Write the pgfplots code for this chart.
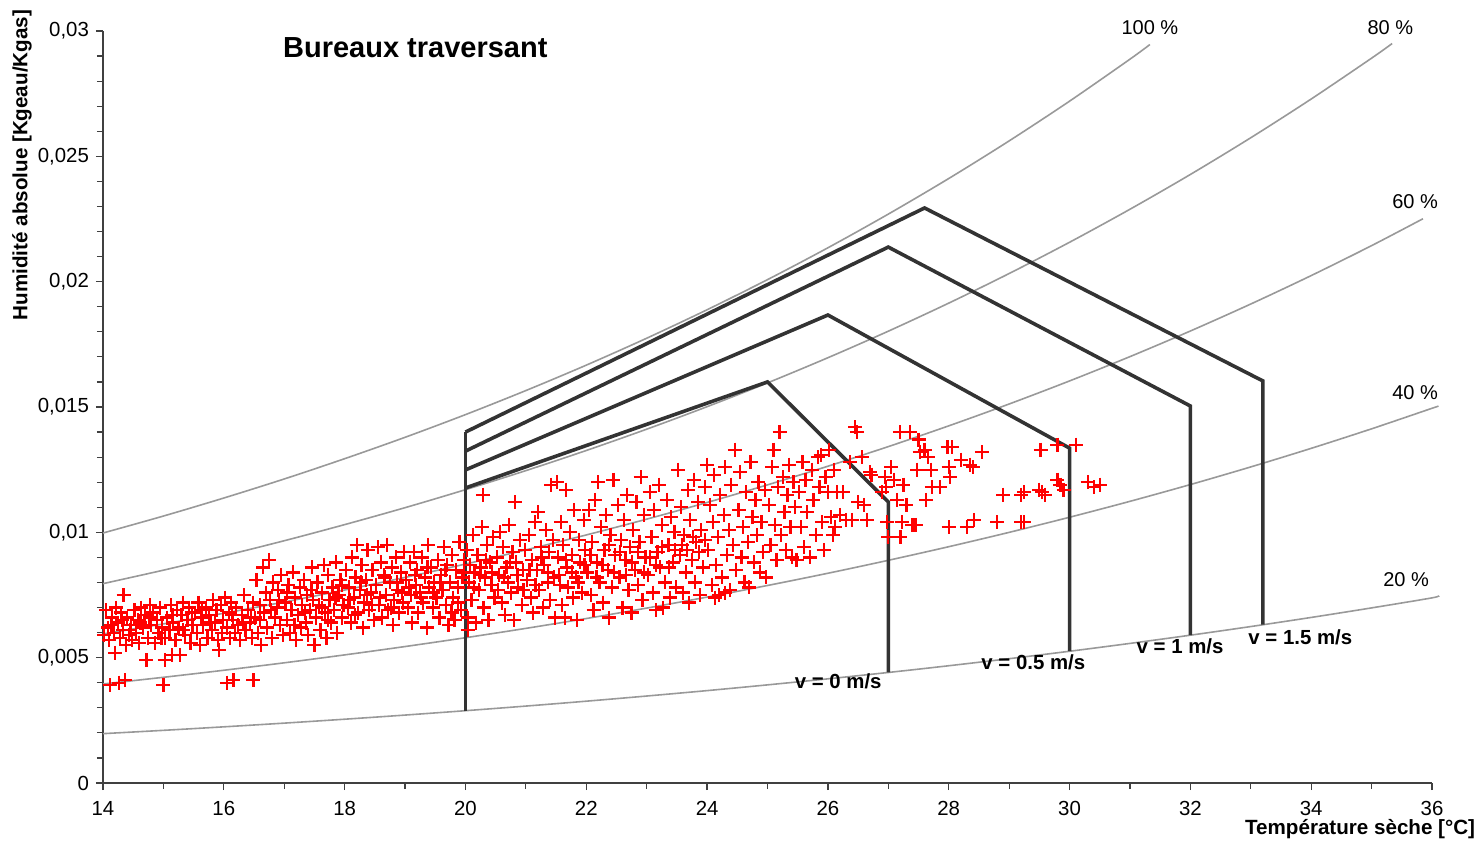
\documentclass[border=0pt]{standalone}
\usepackage{pgfplots}
\pgfplotsset{compat=1.18}
\usepackage{fontspec}
\setmainfont{Liberation Sans}
\definecolor{rhgray}{HTML}{999999}
\definecolor{zone}{HTML}{333333}
\definecolor{axgray}{HTML}{404040}
\begin{document}
\begin{tikzpicture}
\begin{axis}[
  scale only axis, width=664.5pt, height=376pt,
  xmin=14, xmax=36, ymin=0, ymax=0.03,
  axis x line=bottom, axis y line=left,
  axis line style={-, axgray, line width=0.6pt},
  clip=false,
  xtick={14,16,...,36}, minor x tick num=1,
  ytick={0,0.005,0.01,0.015,0.02,0.025,0.03},
  yticklabels={0,{0,005},{0,01},{0,015},{0,02},{0,025},{0,03}},
  minor y tick num=4,
  scaled y ticks=false,
  tick align=outside,
  major tick length=3.5pt, minor tick length=3pt,
  tick style={axgray, line width=0.6pt},
  /pgf/number format/assume math mode=true,
  ticklabel style={font=\fontsize{10.2}{12}\selectfont},
  xticklabel style={yshift=-2pt},
]
% relative humidity curves
\addplot[rhgray, line width=0.8pt, smooth] coordinates {(14,0.009973)(15,0.010650)(16,0.011369)(17,0.012129)(18,0.012938)(19,0.013791)(20,0.014696)(21,0.015656)(22,0.016670)(23,0.017744)(24,0.018880)(25,0.020081)(26,0.021352)(27,0.022696)(28,0.024115)(29,0.025616)(30,0.027201)(31,0.028876)(31.33,0.02946)};
\addplot[rhgray, line width=0.8pt, smooth] coordinates {(14,0.007953)(15,0.008491)(16,0.009062)(17,0.009665)(18,0.010308)(19,0.010984)(20,0.011702)(21,0.012462)(22,0.013265)(23,0.014115)(24,0.015013)(25,0.015962)(26,0.016966)(27,0.018025)(28,0.019144)(29,0.020325)(30,0.021572)(31,0.022889)(32,0.024277)(33,0.025742)(34,0.027287)(35,0.028917)(35.34,0.02950)};
\addplot[rhgray, line width=0.8pt, smooth] coordinates {(14,0.005946)(15,0.006347)(16,0.006772)(17,0.007221)(18,0.007699)(19,0.008202)(20,0.008735)(21,0.009300)(22,0.009896)(23,0.010526)(24,0.011192)(25,0.011895)(26,0.012638)(27,0.013421)(28,0.014248)(29,0.015120)(30,0.016040)(31,0.017010)(32,0.018032)(33,0.019109)(34,0.020243)(35,0.021438)(35.85,0.02251)};
\addplot[rhgray, line width=0.8pt, smooth] coordinates {(14,0.003951)(15,0.004217)(16,0.004498)(17,0.004795)(18,0.005111)(19,0.005444)(20,0.005796)(21,0.006169)(22,0.006562)(23,0.006978)(24,0.007417)(25,0.007880)(26,0.008368)(27,0.008884)(28,0.009427)(29,0.009999)(30,0.010602)(31,0.011237)(32,0.011906)(33,0.012610)(34,0.013351)(35,0.014130)(36,0.014949)(36.1,0.01503)};
\addplot[rhgray, line width=0.8pt, smooth] coordinates {(14,0.001969)(15,0.002101)(16,0.002241)(17,0.002389)(18,0.002545)(19,0.002710)(20,0.002885)(21,0.003069)(22,0.003264)(23,0.003470)(24,0.003686)(25,0.003915)(26,0.004156)(27,0.004410)(28,0.004678)(29,0.004960)(30,0.005256)(31,0.005569)(32,0.005897)(33,0.006242)(34,0.006605)(35,0.006986)(36,0.007386)(36.1,0.00747)};
% comfort zones
\addplot[zone, line width=1.8pt] coordinates {(20,0.00288)(20,0.0140)};
\addplot[zone, line width=1.8pt, line join=miter] coordinates {(20,0.01177)(25,0.0160)(27,0.01121)(27,0.00441)};
\addplot[zone, line width=1.8pt, line join=miter] coordinates {(20,0.01249)(26,0.01867)(30,0.01336)(30,0.00526)};
\addplot[zone, line width=1.8pt, line join=miter] coordinates {(20,0.01324)(27,0.02138)(32,0.01504)(32,0.00590)};
\addplot[zone, line width=1.8pt, line join=miter] coordinates {(20,0.0140)(27.6,0.02294)(33.2,0.01604)(33.2,0.00632)};
% measured points
\addplot[only marks, mark=+, mark size=3.5pt, red, mark options={line width=1.1pt}] coordinates {
(14.02,0.0059)(14.05,0.0069)(14.08,0.0062)(14.1,0.0057)(14.12,0.0039)(14.15,0.0066)(14.18,0.0060)(14.2,0.0052)(14.22,0.0070)(14.25,0.0064)(14.26,0.0040)(14.28,0.0058)(14.3,0.0068)(14.33,0.0061)(14.36,0.0041)(14.38,0.0055)(14.34,0.0075)(14.4,0.0066)(14.43,0.0059)(14.46,0.0063)(14.48,0.0057)
(14.52,0.0069)(14.55,0.0060)(14.58,0.0065)(14.6,0.0056)(14.63,0.0070)(14.66,0.0062)(14.7,0.0067)(14.72,0.0049)(14.75,0.0058)(14.78,0.0071)(14.8,0.0063)(14.83,0.0068)(14.86,0.0056)(14.9,0.0065)(14.92,0.0060)(14.95,0.0070)(14.98,0.0062)
(15.0,0.0039)(15.02,0.0049)(15.03,0.0058)(15.06,0.0066)(15.1,0.0061)(15.12,0.0071)(15.14,0.0051)(15.16,0.0064)(15.2,0.0057)(15.22,0.0069)(15.25,0.0062)(15.28,0.0051)(15.3,0.0067)(15.33,0.0072)(15.36,0.0059)(15.4,0.0065)(15.42,0.0070)(15.45,0.0056)(15.48,0.0063)
(15.52,0.0068)(15.55,0.0060)(15.58,0.0072)(15.6,0.0055)(15.63,0.0066)(15.66,0.0063)(15.7,0.0070)(15.73,0.0058)(15.76,0.0067)(15.8,0.0061)(15.82,0.0073)(15.85,0.0064)(15.88,0.0069)(15.9,0.0057)(15.92,0.0053)(15.95,0.0071)(15.98,0.0065)
(16.02,0.0074)(16.05,0.0040)(16.05,0.0062)(16.08,0.0068)(16.1,0.0058)(16.12,0.0072)(16.15,0.0065)(16.16,0.0041)(16.18,0.0060)(16.2,0.0070)(16.24,0.0063)(16.27,0.0057)(16.3,0.0067)(16.33,0.0075)(16.36,0.0061)(16.4,0.0069)(16.43,0.0064)(16.46,0.0058)(16.49,0.0041)(16.48,0.0072)
(16.52,0.0066)(16.54,0.0081)(16.56,0.0060)(16.6,0.0071)(16.62,0.0055)(16.65,0.0086)(16.67,0.0068)(16.7,0.0076)(16.72,0.0062)(16.75,0.0089)(16.77,0.0073)(16.8,0.0058)(16.82,0.0080)(16.85,0.0066)(16.88,0.0070)(16.9,0.0077)(16.93,0.0063)(16.95,0.0083)(16.98,0.0059)
(17.02,0.0072)(17.05,0.0065)(17.07,0.0079)(17.1,0.0060)(17.12,0.0069)(17.15,0.0084)(17.18,0.0074)(17.2,0.0057)(17.23,0.0067)(17.26,0.0078)(17.28,0.0062)(17.3,0.0071)(17.33,0.0081)(17.36,0.0064)(17.38,0.0075)(17.4,0.0059)(17.43,0.0069)(17.46,0.0086)(17.48,0.0073)
(17.5,0.0055)(17.52,0.0066)(17.55,0.0080)(17.58,0.0071)(17.6,0.0061)(17.63,0.0076)(17.66,0.0087)(17.68,0.0068)(17.7,0.0058)(17.73,0.0083)(17.75,0.0073)(17.78,0.0064)(17.8,0.0078)(17.83,0.0069)(17.86,0.0088)(17.88,0.0060)(17.9,0.0075)(17.93,0.0081)(17.96,0.0066)(17.98,0.0071)
(18.02,0.0085)(18.05,0.0070)(18.07,0.0078)(18.1,0.0064)(18.12,0.0090)(18.15,0.0074)(18.18,0.0082)(18.2,0.0095)(18.22,0.0068)(18.25,0.0077)(18.28,0.0087)(18.3,0.0062)(18.32,0.0072)(18.35,0.0081)(18.38,0.0093)(18.4,0.0069)(18.43,0.0076)(18.46,0.0085)(18.48,0.0065)
(18.52,0.0079)(18.55,0.0094)(18.57,0.0071)(18.6,0.0088)(18.62,0.0066)(18.65,0.0083)(18.68,0.0075)(18.7,0.0095)(18.72,0.0069)(18.75,0.0080)(18.78,0.0086)(18.8,0.0063)(18.82,0.0073)(18.85,0.0090)(18.88,0.0077)(18.9,0.0068)(18.93,0.0084)(18.96,0.0072)(18.98,0.0092)
(19.02,0.0081)(19.05,0.0070)(19.08,0.0088)(19.1,0.0075)(19.12,0.0064)(19.15,0.0092)(19.18,0.0079)(19.2,0.0085)(19.22,0.0068)(19.25,0.0076)(19.28,0.0090)(19.3,0.0072)(19.33,0.0082)(19.36,0.0062)(19.38,0.0095)(19.4,0.0078)(19.43,0.0086)(19.46,0.0070)(19.48,0.0080)
(19.52,0.0074)(19.55,0.0089)(19.57,0.0066)(19.6,0.0083)(19.62,0.0077)(19.65,0.0094)(19.68,0.0071)(19.7,0.0087)(19.72,0.0063)(19.75,0.0080)(19.78,0.0091)(19.8,0.0074)(19.82,0.0065)(19.85,0.0085)(19.88,0.0078)(19.9,0.0096)(19.93,0.0069)(19.95,0.0082)(19.98,0.0089)
(20.02,0.0093)(20.04,0.0061)(20.04,0.0066)(20.06,0.0080)(20.08,0.0087)(20.1,0.0073)(20.12,0.0099)(20.15,0.0084)(20.18,0.0064)(20.2,0.0091)(20.22,0.0077)(20.25,0.0086)(20.28,0.0102)(20.29,0.0115)(20.3,0.0070)(20.33,0.0082)(20.36,0.0095)(20.38,0.0065)(20.4,0.0088)(20.43,0.0079)(20.46,0.0098)(20.48,0.0074)
(20.52,0.0090)(20.55,0.0083)(20.57,0.0100)(20.6,0.0072)(20.62,0.0094)(20.65,0.0067)(20.68,0.0086)(20.7,0.0080)(20.72,0.0103)(20.75,0.0076)(20.78,0.0092)(20.8,0.0065)(20.82,0.0112)(20.84,0.0088)(20.87,0.0078)(20.9,0.0097)(20.93,0.0071)(20.95,0.0085)(20.98,0.0093)
(21.02,0.0081)(21.05,0.0099)(21.08,0.0074)(21.1,0.0089)(21.12,0.0068)(21.15,0.0104)(21.18,0.0085)(21.2,0.0108)(21.22,0.0077)(21.25,0.0094)(21.28,0.0070)(21.3,0.0087)(21.33,0.0101)(21.36,0.0080)(21.38,0.0092)(21.4,0.0073)(21.42,0.0119)(21.45,0.0097)(21.48,0.0066)
(21.52,0.0120)(21.53,0.0090)(21.55,0.0083)(21.58,0.0104)(21.6,0.0071)(21.62,0.0095)(21.65,0.0066)(21.67,0.0117)(21.68,0.0086)(21.7,0.0078)(21.73,0.0100)(21.76,0.0091)(21.78,0.0074)(21.8,0.0109)(21.83,0.0082)(21.85,0.0065)(21.88,0.0097)(21.9,0.0088)(21.93,0.0076)(21.96,0.0105)(21.98,0.0093)
(22.02,0.0084)(22.05,0.0109)(22.08,0.0075)(22.1,0.0096)(22.12,0.0069)(22.15,0.0113)(22.18,0.0088)(22.2,0.0120)(22.22,0.0080)(22.25,0.0102)(22.28,0.0072)(22.3,0.0093)(22.33,0.0107)(22.36,0.0085)(22.38,0.0066)(22.4,0.0099)(22.43,0.0078)(22.45,0.0121)(22.47,0.0091)
(22.52,0.0111)(22.55,0.0082)(22.57,0.0097)(22.6,0.0070)(22.62,0.0105)(22.65,0.0089)(22.68,0.0115)(22.7,0.0077)(22.72,0.0094)(22.75,0.0068)(22.78,0.0101)(22.8,0.0085)(22.83,0.0112)(22.85,0.0079)(22.88,0.0096)(22.9,0.0122)(22.93,0.0073)(22.95,0.0107)(22.98,0.0090)
(23.02,0.0083)(23.05,0.0116)(23.08,0.0098)(23.1,0.0076)(23.12,0.0109)(23.15,0.0069)(23.18,0.0092)(23.2,0.0119)(23.22,0.0086)(23.25,0.0103)(23.27,0.0070)(23.3,0.0080)(23.33,0.0113)(23.36,0.0095)(23.38,0.0074)(23.4,0.0106)(23.43,0.0088)(23.46,0.0100)(23.48,0.0078)
(23.52,0.0125)(23.55,0.0091)(23.57,0.0110)(23.6,0.0076)(23.62,0.0099)(23.65,0.0084)(23.68,0.0117)(23.7,0.0072)(23.72,0.0105)(23.75,0.0089)(23.78,0.0121)(23.8,0.0080)(23.82,0.0096)(23.85,0.0112)(23.88,0.0075)(23.9,0.0101)(23.93,0.0086)(23.96,0.0118)(24.0,0.0127)
(24.02,0.0093)(24.05,0.0111)(24.08,0.0079)(24.1,0.0104)(24.12,0.0123)(24.13,0.0074)(24.15,0.0087)(24.18,0.0098)(24.2,0.0075)(24.22,0.0115)(24.25,0.0082)(24.28,0.0107)(24.3,0.0126)(24.3,0.0076)(24.33,0.0091)(24.36,0.0101)(24.38,0.0077)(24.4,0.0119)(24.43,0.0095)(24.46,0.0133)(24.48,0.0085)
(24.52,0.0109)(24.55,0.0124)(24.57,0.0090)(24.6,0.0102)(24.62,0.0080)(24.65,0.0116)(24.68,0.0096)(24.7,0.0078)(24.72,0.0128)(24.75,0.0106)(24.78,0.0088)(24.8,0.0113)(24.83,0.0099)(24.85,0.0120)(24.88,0.0084)(24.9,0.0104)(24.93,0.0092)(24.96,0.0117)(24.98,0.0082)
(25.02,0.0111)(25.05,0.0095)(25.08,0.0126)(25.1,0.0133)(25.12,0.0103)(25.15,0.0089)(25.18,0.0118)(25.2,0.0140)(25.22,0.0099)(25.25,0.0122)(25.28,0.0108)(25.3,0.0093)(25.33,0.0115)(25.36,0.0127)(25.38,0.0102)(25.4,0.0090)(25.43,0.0120)(25.46,0.0110)(25.48,0.0089)
(25.52,0.0116)(25.55,0.0102)(25.58,0.0128)(25.6,0.0094)(25.63,0.0121)(25.66,0.0108)(25.7,0.0090)(25.73,0.0125)(25.76,0.0113)(25.8,0.0099)(25.83,0.0130)(25.86,0.0118)(25.88,0.0131)(25.9,0.0104)(25.93,0.0093)(25.96,0.0122)
(26.0,0.0116)(26.02,0.0133)(26.05,0.0106)(26.08,0.0099)(26.1,0.0125)(26.12,0.0102)(26.15,0.0116)(26.2,0.0107)(26.25,0.0116)(26.3,0.0105)(26.36,0.0128)(26.4,0.0105)(26.45,0.0142)(26.48,0.0140)(26.5,0.0112)
(26.56,0.0130)(26.6,0.0111)(26.65,0.0105)(26.7,0.0124)(26.72,0.0123)(26.9,0.0116)(26.94,0.0122)(26.96,0.0118)(26.98,0.0104)(27.0,0.0098)
(27.05,0.0126)(27.1,0.0121)(27.15,0.0113)(27.19,0.0140)(27.2,0.0098)(27.22,0.0104)(27.25,0.0119)(27.3,0.0111)(27.36,0.0140)(27.4,0.0103)(27.45,0.0103)(27.48,0.0125)
(27.5,0.0137)(27.52,0.0132)(27.6,0.0133)(27.62,0.0113)(27.66,0.0130)(27.7,0.0125)(27.72,0.0118)(27.85,0.0118)(27.98,0.0134)(28.0,0.0126)(28.0,0.0102)(28.02,0.0122)(28.05,0.0134)
(28.2,0.0129)(28.3,0.0102)(28.35,0.0127)(28.4,0.0126)(28.42,0.0105)(28.55,0.0132)
(28.8,0.0104)(28.9,0.0115)(29.2,0.0104)(29.2,0.0115)(29.25,0.0116)(29.25,0.0104)(29.5,0.0117)(29.55,0.0116)(29.52,0.0133)(29.6,0.0115)(29.8,0.0121)(29.85,0.0119)(29.8,0.0135)(29.9,0.0117)(30.1,0.0135)(30.3,0.0120)(30.4,0.0118)(30.5,0.0119)
(14.14,0.0063)(14.32,0.0065)(14.45,0.0061)(14.62,0.0064)(14.77,0.0066)(14.97,0.0058)(15.15,0.0067)(15.32,0.0061)(15.47,0.0068)(15.64,0.0069)(15.78,0.0064)(15.97,0.0060)(16.14,0.0067)(16.32,0.0064)(16.45,0.0066)(16.6,0.0065)(16.78,0.0069)(16.92,0.0073)
(17.04,0.0076)(17.17,0.0063)(17.35,0.0068)(17.45,0.0077)(17.62,0.0070)(17.72,0.0065)(17.85,0.0074)(17.95,0.0079)(18.08,0.0073)(18.17,0.0067)(18.27,0.0080)(18.37,0.0075)(18.45,0.0071)(18.58,0.0074)(18.67,0.0082)(18.77,0.0070)(18.87,0.0080)(18.95,0.0076)(19.07,0.0078)(19.17,0.0083)(19.27,0.0074)(19.37,0.0086)(19.47,0.0076)(19.58,0.0080)(19.67,0.0085)(19.77,0.0068)(19.87,0.0072)(19.97,0.0084)
(20.14,0.0078)(20.24,0.0083)(20.34,0.0089)(20.44,0.0084)(20.54,0.0077)(20.64,0.0082)(20.74,0.0088)(20.86,0.0083)(20.96,0.0077)(21.06,0.0085)(21.16,0.0079)(21.26,0.0090)(21.37,0.0084)(21.47,0.0082)(21.57,0.0079)(21.66,0.0089)(21.77,0.0084)(21.87,0.0080)(21.97,0.0087)(22.07,0.0091)(22.17,0.0082)(22.27,0.0087)(22.37,0.0095)(22.46,0.0084)(22.56,0.0092)(22.66,0.0083)(22.76,0.0088)(22.86,0.0092)(22.96,0.0084)(23.06,0.0090)(23.16,0.0087)(23.26,0.0094)(23.37,0.0086)(23.47,0.0093)(23.58,0.0095)(23.67,0.0093)(23.77,0.0098)(23.87,0.0092)(23.97,0.0097)
};
% labels
\node[font=\fontsize{14.5}{17}\selectfont\bfseries] at (axis cs:19.17,0.02932) {Bureaux traversant};
\node[font=\fontsize{10.3}{12}\selectfont\bfseries, rotate=90] at (axis cs:12.66,0.02465) {Humidité absolue [Kgeau/Kgas]};
\node[font=\fontsize{10.3}{12}\selectfont\bfseries] at (axis cs:34.81,-0.00183) {Température sèche [°C]};
\node[font=\fontsize{10}{12}\selectfont] at (axis cs:31.33,0.03012) {100 \%};
\node[font=\fontsize{10}{12}\selectfont] at (axis cs:35.31,0.03012) {80 \%};
\node[font=\fontsize{10}{12}\selectfont] at (axis cs:35.72,0.02318) {60 \%};
\node[font=\fontsize{10}{12}\selectfont] at (axis cs:35.72,0.01556) {40 \%};
\node[font=\fontsize{10}{12}\selectfont] at (axis cs:35.57,0.00810) {20 \%};
\node[font=\fontsize{10.2}{12}\selectfont\bfseries] at (axis cs:26.17,0.00407) {v = 0 m/s};
\node[font=\fontsize{10.2}{12}\selectfont\bfseries] at (axis cs:29.40,0.00483) {v = 0.5 m/s};
\node[font=\fontsize{10.2}{12}\selectfont\bfseries] at (axis cs:31.83,0.00547) {v = 1 m/s};
\node[font=\fontsize{10.2}{12}\selectfont\bfseries] at (axis cs:33.82,0.00583) {v = 1.5 m/s};
\end{axis}
\pgfresetboundingbox
\path (-51.5pt,-29.5pt) rectangle (689pt,391.5pt);
\end{tikzpicture}
\end{document}
